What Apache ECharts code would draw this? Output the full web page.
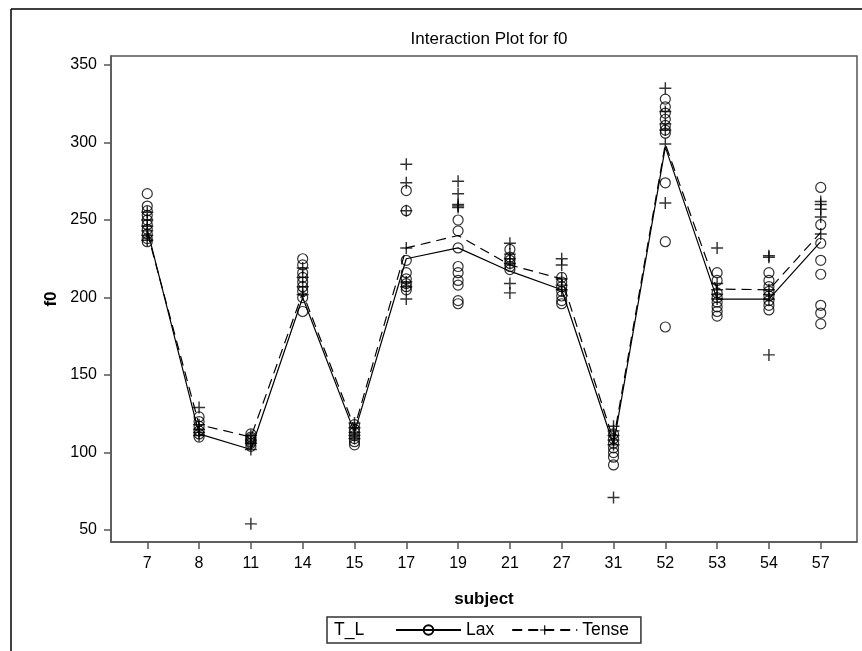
<!DOCTYPE html>
<html>
<head>
<meta charset="utf-8">
<script src="https://cdn.jsdelivr.net/npm/echarts@6/dist/echarts.min.js"></script>
<style>
html,body{margin:0;padding:0;background:#fff;}
#chart{width:862px;height:651px;}
</style>
</head>
<body>
<div id="chart"></div>
<script>
// ---- data ----
const subjects = ['7','8','11','14','15','17','19','21','27','31','52','53','54','57'];
const yTicks = [50,100,150,200,250,300,350];
const laxMean   = [244, 112, 102, 200, 113, 225, 232, 217, 205, 105, 297, 199, 199, 236];
const tenseMean = [242, 118, 110, 203, 116, 232, 240, 221, 212, 108, 299, 205.5, 205, 242];
const laxPoints = [
  [267, 259, 256, 253, 250, 247, 244, 241, 238, 236],
  [123, 120, 117, 114, 112, 110],
  [112, 110, 109, 108, 107, 106, 104],
  [225, 221, 216, 213, 210, 207, 204, 200, 191],
  [118, 115, 113, 111, 109, 107, 105],
  [269, 256, 224, 216, 212, 209, 207, 205],
  [250, 243, 232, 220, 216, 211, 208, 198, 196],
  [231, 226, 224, 222, 220, 218],
  [213, 210, 207, 204, 201, 198, 196],
  [112, 109, 106, 103, 100, 97, 92],
  [328, 323, 319, 315, 311, 308, 306, 274, 236, 181],
  [216, 211, 203, 200, 197, 194, 191, 188],
  [216, 211, 207, 204, 201, 198, 195, 192],
  [271, 247, 235, 224, 215, 195, 190, 183]
];
const tensePoints = [
  [255, 250, 246, 243, 240, 237],
  [129, 118, 115, 113, 111],
  [111, 108, 106, 102, 54],
  [219, 213, 207, 202],
  [119, 116, 113, 111, 109],
  [286, 274, 256, 232, 210, 207, 199],
  [275, 267, 260, 259, 258],
  [235, 228, 225, 222, 209, 203],
  [225, 221, 212, 208, 205],
  [117, 114, 111, 108, 105, 71],
  [335, 320, 312, 308, 299, 261],
  [232, 209, 205, 202, 199],
  [227, 226, 205, 202, 199, 163],
  [262, 260, 257, 252, 241]
];

// ---- build ----
const idx = subjects.map((s, i) => i);
function pts(arr) {
  const out = [];
  arr.forEach((vals, i) => vals.forEach(v => out.push([i, v])));
  return out;
}
const FONT = 'Liberation Sans, Arial, sans-serif';
const INK = '#000';
const FRAME = '#555';
const PLUS = 'path://M4.4,0H5.6V4.4H10V5.6H5.6V10H4.4V5.6H0V4.4H4.4Z';
const circleStyle = {color: 'rgba(0,0,0,0)', borderColor: INK, borderWidth: 1.2};
const plusStyle = {color: INK, borderWidth: 0};

const chart = echarts.init(document.getElementById('chart'), null, {renderer: 'canvas'});
chart.setOption({
  animation: false,
  backgroundColor: '#fff',
  title: {
    text: 'Interaction Plot for f0',
    left: 484, top: 26, textAlign: 'center',
    textStyle: {fontFamily: FONT, fontSize: 17, fontWeight: 'normal', color: INK}
  },
  grid: {left: 111, right: 5, top: 56, bottom: 109, show: true, borderColor: FRAME, borderWidth: 1.5, backgroundColor: 'transparent'},
  xAxis: {
    type: 'value', min: -0.7, max: 13.7,
    name: 'subject', nameLocation: 'middle', nameGap: 49,
    nameTextStyle: {fontFamily: FONT, fontSize: 17, fontWeight: 'bold', color: INK},
    axisLine: {show: true, onZero: false, lineStyle: {color: FRAME, width: 1.5}},
    axisTick: {show: true, length: 7, customValues: idx, lineStyle: {color: FRAME, width: 1.5}},
    axisLabel: {customValues: idx, margin: 14, formatter: v => subjects[Math.round(v)], fontFamily: FONT, fontSize: 16, color: INK},
    splitLine: {show: false}
  },
  yAxis: {
    type: 'value', min: 42.3, max: 355.8,
    name: 'f0', nameLocation: 'middle', nameGap: 36, nameRotate: 90,
    nameTextStyle: {fontFamily: FONT, fontSize: 17, fontWeight: 'bold', color: INK},
    axisLine: {show: true, onZero: false, lineStyle: {color: FRAME, width: 1.5}},
    axisTick: {show: true, length: 7, customValues: yTicks, lineStyle: {color: FRAME, width: 1.5}},
    axisLabel: {customValues: yTicks, margin: 14, fontFamily: FONT, fontSize: 16, color: INK},
    splitLine: {show: false}
  },
  legend: {
    data: ['Lax', 'Tense'],
    left: 327, top: 617,
    padding: [4, 12, 4, 68],
    itemWidth: 65, itemHeight: 12, itemGap: 17,
    borderColor: '#333', borderWidth: 1.5,
    selectedMode: false,
    textStyle: {fontFamily: FONT, fontSize: 17.5, color: INK}
  },
  graphic: [
    {type: 'line', shape: {x1: 11, y1: 9, x2: 862, y2: 9}, style: {stroke: '#000', lineWidth: 1.5}},
    {type: 'line', shape: {x1: 11, y1: 9, x2: 11, y2: 651}, style: {stroke: '#000', lineWidth: 1.5}},
    {type: 'text', left: 334, top: 621, style: {text: 'T_L', font: '17.5px ' + FONT, fill: INK}}
  ],
  series: [
    {
      name: 'Lax', type: 'line', data: laxMean.map((v, i) => [i, v]),
      symbol: 'circle', symbolSize: 10, showSymbol: false,
      itemStyle: circleStyle,
      lineStyle: {color: INK, width: 1.2, type: 'solid'}, z: 2
    },
    {
      name: 'Tense', type: 'line', data: tenseMean.map((v, i) => [i, v]),
      symbol: PLUS, symbolSize: 12, showSymbol: false,
      itemStyle: plusStyle,
      lineStyle: {color: INK, width: 1.2, type: [10, 6]}, z: 2
    },
    {
      name: 'Lax obs', type: 'scatter', data: pts(laxPoints),
      symbol: 'circle', symbolSize: 10, itemStyle: circleStyle, z: 3
    },
    {
      name: 'Tense obs', type: 'scatter', data: pts(tensePoints),
      symbol: PLUS, symbolSize: 12, itemStyle: plusStyle, z: 3
    }
  ]
});
</script>
</body>
</html>
